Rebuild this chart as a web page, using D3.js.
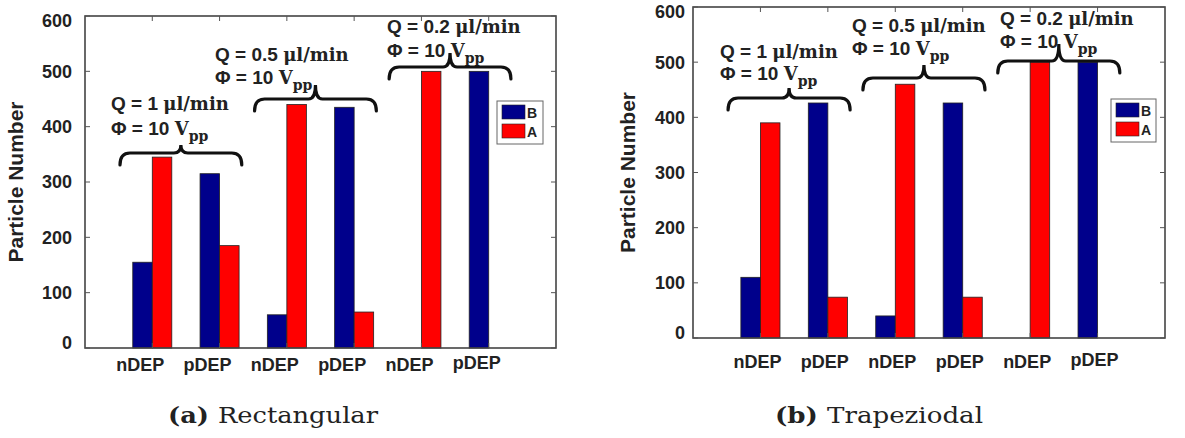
<!DOCTYPE html>
<html>
<head>
<meta charset="utf-8">
<script src="https://cdn.jsdelivr.net/npm/d3@7"></script>
<style>
  body { margin: 0; background: #fff; }
  svg text { fill: #222; }
</style>
</head>
<body>
<div id="chart"></div>
<script>
// values
const categories = ["nDEP", "pDEP", "nDEP", "pDEP", "nDEP", "pDEP"];
const seriesNames = ["B", "A"];
const seriesColors = ["#00008b", "#ff0000"];
const rectB = [155, 315, 60, 435, 0, 500];
const rectA = [345, 185, 440, 65, 500, 0];
const trapB = [110, 426, 40, 426, 0, 500];
const trapA = [390, 74, 460, 74, 500, 0];
const flowRates = ["1", "0.5", "0.2"];
const voltage = "10";
const yTicks = [0, 100, 200, 300, 400, 500, 600];
const captions = [["(a)", "Rectangular"], ["(b)", "Trapeziodal"]];

const W = 1185, H = 438;
const sans = "'Liberation Sans', Arial, sans-serif";
const serif = "'DejaVu Serif', serif";

// layout of the two panels (pixels)
const panels = [
  { A: rectA, B: rectB, left: 85, right: 556, top: 16, bottom: 348,
    yTitleX: 15, gap: 13, catDx: -12, catY: 371,
    legend: { x: 497, y: 101, w: 46, h: 43 },
    cap: { x: 168, y: 423, len: 210 },
    notes: [ { tx: 111, qy: 110, py: 135, by: 153, tip: 8 },
             { tx: 215, qy: 61, py: 84, by: 99, tip: 14 },
             { tx: 387, qy: 33, py: 57, by: 67, tip: 14 } ] },
  { A: trapA, B: trapB, left: 693, right: 1165, top: 7, bottom: 338,
    yTitleX: 627, gap: 8, catDx: -3, catY: 368,
    legend: { x: 1111, y: 99, w: 45, h: 43 },
    cap: { x: 775, y: 423, len: 208 },
    notes: [ { tx: 720, qy: 58, py: 80, by: 98, tip: 10 },
             { tx: 852, qy: 32, py: 55, by: 78, tip: 13 },
             { tx: 1000, qy: 25, py: 48, by: 61, tip: 17 } ] }
];

const svg = d3.select("#chart").append("svg")
  .attr("width", W).attr("height", H);

const barW = 0.29;

function brace(x0, x1, y, tip) {
  const xm = (x0 + x1) / 2;
  return `M${x0},${y + 12} Q${x0},${y} ${x0 + 10},${y}` +
    ` L${xm - 7},${y} Q${xm},${y} ${xm},${y - tip}` +
    ` Q${xm},${y} ${xm + 7},${y} L${x1 - 10},${y}` +
    ` Q${x1},${y} ${x1},${y + 12}`;
}

panels.forEach(function(p, pi) {
  const g = svg.append("g");
  const x = d3.scaleLinear().domain([0, categories.length + 1]).range([p.left, p.right]);
  const y = d3.scaleLinear().domain([0, 600]).range([p.bottom, p.top]);

  // bars
  const series = [p.B, p.A];
  series.forEach(function(vals, si) {
    g.selectAll(".bar" + si)
      .data(vals)
      .enter().append("rect")
      .attr("x", (d, i) => x(i + 1 + (si === 0 ? -barW : 0)))
      .attr("width", x(barW) - x(0))
      .attr("y", d => y(d))
      .attr("height", d => y(0) - y(d))
      .attr("fill", seriesColors[si])
      .attr("stroke", d => d > 0 ? "#222" : "none")
      .attr("stroke-width", 0.8);
  });

  // box with inward ticks
  g.append("rect")
    .attr("x", p.left).attr("y", p.top)
    .attr("width", p.right - p.left).attr("height", p.bottom - p.top)
    .attr("fill", "none").attr("stroke", "#444").attr("stroke-width", 1.6);

  const tk = 5;
  yTicks.forEach(function(t, i) {
    g.append("line").attr("x1", p.left).attr("x2", p.left + tk)
      .attr("y1", y(t)).attr("y2", y(t)).attr("stroke", "#555");
    g.append("line").attr("x1", p.right).attr("x2", p.right - tk)
      .attr("y1", y(t)).attr("y2", y(t)).attr("stroke", "#555");
    // end labels sit a little inside the axis range, as in the figure
    const nudge = i === 0 ? -5 : (i === yTicks.length - 1 ? 5 : 0);
    g.append("text")
      .attr("x", p.left - p.gap).attr("y", y(t) + nudge).attr("dy", "0.36em")
      .attr("text-anchor", "end")
      .style("font", "bold 18px " + sans)
      .text(t);
  });
  categories.forEach(function(c, i) {
    g.append("line").attr("x1", x(i + 1)).attr("x2", x(i + 1))
      .attr("y1", p.top).attr("y2", p.top + tk).attr("stroke", "#555");
    g.append("line").attr("x1", x(i + 1)).attr("x2", x(i + 1))
      .attr("y1", p.bottom).attr("y2", p.bottom - tk).attr("stroke", "#555");
    g.append("text")
      .attr("x", x(i + 1) + p.catDx)
      .attr("y", p.catY - (i === categories.length - 1 ? 2 : 0))
      .attr("text-anchor", "middle")
      .style("font", "bold 18px " + sans)
      .text(c);
  });

  // y axis title
  g.append("text")
    .attr("transform", `translate(${p.yTitleX},${(p.top + p.bottom) / 2}) rotate(-90)`)
    .attr("dy", "0.36em")
    .attr("text-anchor", "middle")
    .style("font", "bold 21px " + sans)
    .text("Particle Number");

  // legend
  const lg = g.append("g");
  lg.append("rect")
    .attr("x", p.legend.x).attr("y", p.legend.y)
    .attr("width", p.legend.w).attr("height", p.legend.h)
    .attr("fill", "#fff").attr("stroke", "#666");
  seriesNames.forEach(function(s, si) {
    lg.append("rect")
      .attr("x", p.legend.x + 5).attr("y", p.legend.y + 4 + si * 19)
      .attr("width", 23).attr("height", 14)
      .attr("fill", seriesColors[si]).attr("stroke", "#222").attr("stroke-width", 0.6);
    lg.append("text")
      .attr("x", p.legend.x + 30).attr("y", p.legend.y + 17 + si * 19)
      .style("font", "bold 14px " + sans)
      .text(s);
  });

  // flow-rate annotations with braces
  flowRates.forEach(function(q, k) {
    const n = p.notes[k];
    const t1 = g.append("text").attr("x", n.tx).attr("y", n.qy);
    t1.append("tspan").style("font", "bold 19px " + sans).text("Q = " + q + " ");
    t1.append("tspan").style("font", "bold 18px " + serif).text("\u03bcl/min");
    const t2 = g.append("text").attr("x", n.tx).attr("y", n.py);
    t2.append("tspan").style("font", "bold 19px " + sans).text("\u03a6 = " + voltage + " ");
    t2.append("tspan").style("font", "bold 18px " + serif).text("V");
    t2.append("tspan").attr("dy", 6).style("font", "bold 14px " + serif).text("pp");

    g.append("path")
      .attr("d", brace(x(2 * k + 0.52), x(2 * k + 2.33), n.by, n.tip))
      .attr("fill", "none").attr("stroke", "#111")
      .attr("stroke-width", 3.2).attr("stroke-linecap", "round");
  });

  // caption
  const cp = svg.append("text")
    .attr("x", p.cap.x).attr("y", p.cap.y)
    .attr("textLength", p.cap.len).attr("lengthAdjust", "spacingAndGlyphs");
  cp.append("tspan").style("font", "bold 23px " + serif).text(captions[pi][0] + " ");
  cp.append("tspan").style("font", "23px " + serif).text(captions[pi][1]);
});
</script>
</body>
</html>
